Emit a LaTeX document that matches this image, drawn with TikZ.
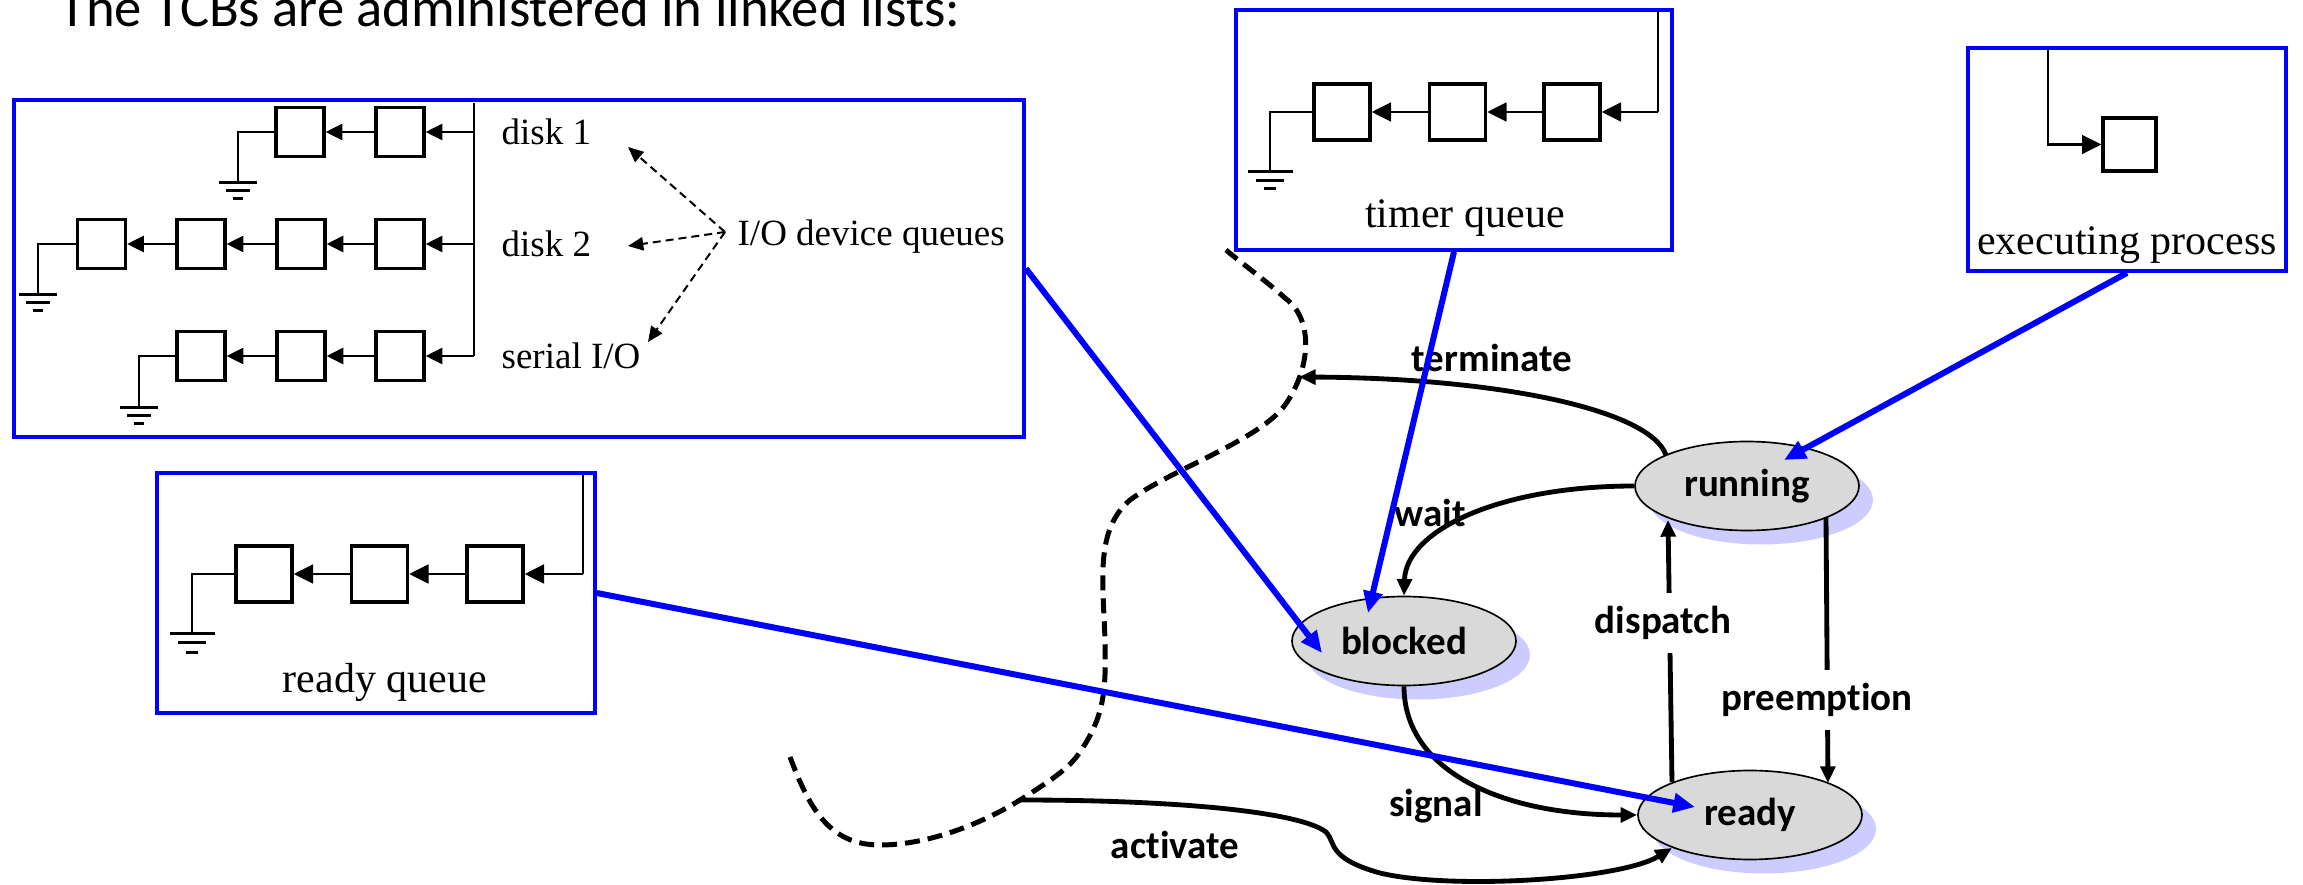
\documentclass[tikz,border=0pt]{standalone}
\usepackage{fontspec}
\setmainfont{Liberation Serif}
\newfontfamily\labelfont[Ligatures=NoCommon]{Carlito}
\usetikzlibrary{arrows.meta,shapes.geometric,shadows,calc}
\definecolor{statefill}{RGB}{217,217,217}
\definecolor{statelav}{RGB}{204,204,255}
\definecolor{frameblue}{RGB}{0,0,255}

% ground symbol: x, y, width, spacing (pixel units)
\newcommand\groundmark[4]{%
  \draw[gndline] ({#1-#3/2},#2) -- ({#1+#3/2},#2);
  \draw[gndline] ({#1-#3*0.31},{#2+#4}) -- ({#1+#3*0.31},{#2+#4});
  \draw[gndline] ({#1-#3*0.13},{#2+2*#4}) -- ({#1+#3*0.13},{#2+2*#4});
}

\begin{document}
\begin{tikzpicture}[x=0.3pt,y=-0.3pt,
  listframe/.style={draw=frameblue,line width=1.1pt,inner sep=0pt},
  cellS/.style={draw,line width=1pt,fill=white,minimum width=14.4pt,minimum height=14.7pt,inner sep=0pt},
  cellL/.style={draw,line width=1pt,fill=white,minimum width=16.8pt,minimum height=16.8pt,inner sep=0pt},
  cellX/.style={draw,line width=1pt,fill=white,minimum width=15.9pt,minimum height=15.9pt,inner sep=0pt},
  link/.style={line width=0.8pt},
  linkS/.style={link,-{Triangle[length=5pt,width=4.8pt]}},
  linkL/.style={link,-{Triangle[length=5.8pt,width=5.6pt]}},
  gndline/.style={line width=0.9pt},
  qtext/.style={font=\fontsize{11.1pt}{13pt}\selectfont,inner sep=0pt,anchor=base west},
  captext/.style={font=\fontsize{12.6pt}{15pt}\selectfont,inner sep=0pt,anchor=base},
  hint/.style={line width=0.6pt,dash pattern=on 2.4pt off 1.5pt,-{Triangle[length=4.6pt,width=4pt]}},
  stateoval/.style={ellipse,draw,line width=0.5pt,fill=statefill,inner sep=0pt,
    minimum width=67.2pt,minimum height=26.7pt,
    font=\labelfont\bfseries\fontsize{11.7pt}{14pt}\selectfont,
    drop shadow={shadow xshift=4.2pt,shadow yshift=-4.2pt,fill=statelav,opacity=1}},
  trans/.style={line width=1.45pt,-{Triangle[length=5pt,width=4.4pt]}},
  translabel/.style={font=\labelfont\bfseries\fontsize{11.7pt}{14pt}\selectfont,inner sep=1pt},
  boundary/.style={line width=1.5pt,dash pattern=on 4.5pt off 2.4pt},
  pointer/.style={draw=frameblue,line width=1.8pt,-{Triangle[length=6.5pt,width=5.6pt]}},
]
\useasboundingbox (0,0) rectangle (2303,885);

% heading
\node[font=\labelfont\fontsize{16.4pt}{19pt}\selectfont,anchor=base west,inner sep=0pt]
  (title) at (59,27) {The TCBs are administered in linked lists:};

% ---------------- I/O device queues ----------------
\node[listframe,minimum width=303pt,minimum height=101.1pt] (iobox) at (519,268.5) {};
\coordinate (iotop) at (474,103);
\coordinate (bus1) at (474,132);
\coordinate (bus2) at (474,244);
\coordinate (bus3) at (474,356);
\draw[link] (iotop) -- (bus3);

% disk 1
\node[cellS] (d1a) at (400,132) {};
\node[cellS] (d1b) at (300,132) {};
\draw[linkS] (bus1) -- (d1a.east);
\draw[linkS] (d1a.west) -- (d1b.east);
\coordinate (e1) at (238,183);
\draw[link] (d1b.west) -| (e1);
\groundmark{238}{183}{38}{8}

% disk 2
\node[cellS] (d2a) at (400,244) {};
\node[cellS] (d2b) at (301,244) {};
\node[cellS] (d2c) at (201,244) {};
\node[cellS] (d2d) at (101.5,244) {};
\draw[linkS] (bus2) -- (d2a.east);
\draw[linkS] (d2a.west) -- (d2b.east);
\draw[linkS] (d2b.west) -- (d2c.east);
\draw[linkS] (d2c.west) -- (d2d.east);
\coordinate (e2) at (38,295);
\draw[link] (d2d.west) -| (e2);
\groundmark{38}{295}{38}{8}

% serial I/O
\node[cellS] (s1a) at (400,356) {};
\node[cellS] (s1b) at (301,356) {};
\node[cellS] (s1c) at (201,356) {};
\draw[linkS] (bus3) -- (s1a.east);
\draw[linkS] (s1a.west) -- (s1b.east);
\draw[linkS] (s1b.west) -- (s1c.east);
\coordinate (e3) at (139,408);
\draw[link] (s1c.west) -| (e3);
\groundmark{139}{408}{38}{8}

\node[qtext] (lbd1) at (501,145) {disk 1};
\node[qtext] (lbd2) at (501,257) {disk 2};
\node[qtext] (lbser) at (501,369) {serial I/O};
\node[qtext] (lbio) at (737,246) {I/O device queues};

\coordinate (hub) at (725,232);
\coordinate (tipd1) at (628,147);
\coordinate (tipd2) at (628,246);
\coordinate (tipser) at (648,342);
\draw[hint] (hub) -- (tipd1);
\draw[hint] (hub) -- (tipd2);
\draw[hint] (hub) -- (tipser);

% ---------------- timer queue ----------------
\node[listframe,minimum width=130.8pt,minimum height=72pt] (timerbox) at (1454,130) {};
\coordinate (ttop) at (1658,12);
\coordinate (tbus) at (1658,112);
\node[cellL] (t1) at (1572,112) {};
\node[cellL] (t2) at (1457.5,112) {};
\node[cellL] (t3) at (1342,112) {};
\draw[link] (ttop) -- (tbus);
\draw[linkL] (tbus) -- (t1.east);
\draw[linkL] (t1.west) -- (t2.east);
\draw[linkL] (t2.west) -- (t3.east);
\coordinate (te) at (1270,172);
\draw[link] (t3.west) -| (te);
\groundmark{1270}{172}{45}{8.5}
\node[captext] (tcap) at (1465,228) {timer queue};

% ---------------- executing process ----------------
\node[listframe,minimum width=95.4pt,minimum height=66.9pt] (execbox) at (2127,159.5) {};
\coordinate (xtop) at (2048,49);
\coordinate (xturn) at (2048,144.5);
\node[cellX] (xcell) at (2129.5,144.5) {};
\draw[linkL] (xtop) -- (xturn) -- (xcell.west);
\node[captext] (xcap) at (2127,255) {executing process};

% ---------------- ready queue ----------------
\node[listframe,minimum width=131.4pt,minimum height=72pt] (rqbox) at (376,593) {};
\coordinate (rtop) at (583,475);
\coordinate (rbus) at (583,574);
\node[cellL] (r1) at (495,574) {};
\node[cellL] (r2) at (379.5,574) {};
\node[cellL] (r3) at (264,574) {};
\draw[link] (rtop) -- (rbus);
\draw[linkL] (rbus) -- (r1.east);
\draw[linkL] (r1.west) -- (r2.east);
\draw[linkL] (r2.west) -- (r3.east);
\coordinate (re) at (192,633);
\draw[link] (r3.west) -| (re);
\groundmark{192}{633}{45}{9.5}
\node[captext] (rcap) at (385,692) {ready queue};

% ---------------- boundary of the system ----------------
\coordinate (act) at (1020,800);
\coordinate (termend) at (1299,377);
\draw[boundary] (790,757) .. controls (810,810) and (830,845) .. (880,845)
  .. controls (930,845) and (985,822) .. (act)
  .. controls (1055,778) and (1070,767) .. (1080,752)
  .. controls (1105,715) and (1106,690) .. (1105,640)
  .. controls (1103,580) and (1095,530) .. (1130,500)
  .. controls (1170,470) and (1260,440) .. (1285,405)
  .. controls (1310,370) and (1315,320) .. (1285,298)
  .. controls (1265,280) and (1240,262) .. (1226,250);

% ---------------- process states ----------------
\node[stateoval] (running) at (1747,486) {running};
\node[stateoval] (blocked) at (1404,641) {blocked};
\node[stateoval] (ready) at (1750,815) {ready};

\draw[trans] ($(running)+(-81,-31)$) .. controls (1650,410) and (1500,378) .. (termend);
\draw[trans] (running.west) .. controls (1500,486) and (1406,530) .. (blocked.north);
\draw[trans] ($(ready)+(-78,-33)$) -- ($(running)+(-79,34)$);
\draw[trans] ($(running)+(79,31)$) -- ($(ready)+(78,-32)$);
\draw[trans] (blocked.south) .. controls (1404,770) and (1500,815) .. (ready.west);
\draw[trans] (act) .. controls (1180,800) and (1300,812) .. (1326,832)
  .. controls (1336,842) and (1326,858) .. (1380,873)
  .. controls (1450,890) and (1620,880) .. ($(ready)+(-78,33)$);

\node[translabel] (lterm) at (1492,358) {terminate};
\node[translabel] (lwait) at (1430,513) {wait};
\node[translabel,fill=white,inner sep=4pt] (ldisp) at (1663,623) {dispatch};
\node[translabel,fill=white,inner sep=4pt] (lpre) at (1817,700) {preemption};
\node[translabel] (lsig) at (1436,806) {signal};
\node[translabel] (lact) at (1175,845) {activate};

% ---------------- where each list lives ----------------
\draw[pointer] (iobox.east) -- ($(blocked)+(-82,12)$);
\draw[pointer] (timerbox.south) -- ($(blocked)+(-36,-28)$);
\draw[pointer] (execbox.south) -- ($(running)+(37,-26)$);
\draw[pointer] (rqbox.east) -- ($(ready)+(-55,-8)$);
\end{tikzpicture}
\end{document}
